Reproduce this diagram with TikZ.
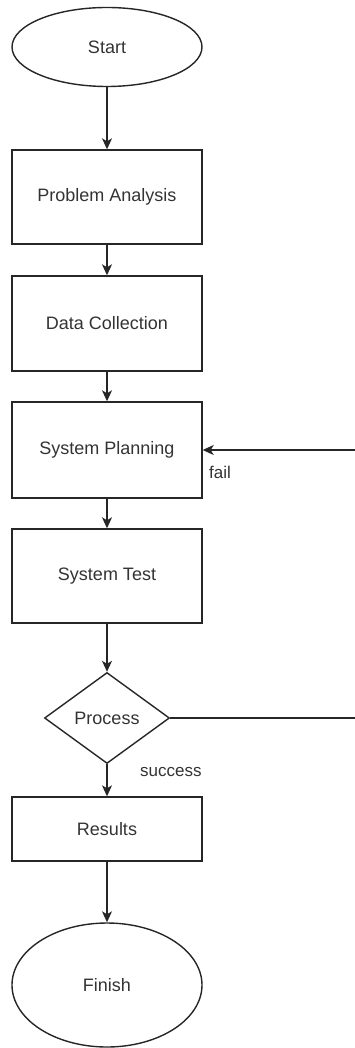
\documentclass[tikz,border=0pt]{standalone}
\usepackage{fontspec}
\setmainfont{Liberation Sans}
\usetikzlibrary{shapes.geometric,arrows.meta}
\begin{document}
\begin{tikzpicture}[x=1pt,y=-1pt,
  every node/.style={font=\fontsize{18}{20}\selectfont, text=black!80},
  box/.style={draw=black!85, line width=1.4pt, rectangle, minimum width=190pt, inner sep=0pt},
  term/.style={draw=black!85, line width=1.4pt, ellipse, minimum width=190pt, inner sep=0pt},
  dec/.style={draw=black!85, line width=1.4pt, diamond, minimum width=125pt, minimum height=91pt, inner sep=0pt},
  flow/.style={draw=black!85, line width=1.4pt, -{Stealth[length=11pt,width=10pt,inset=3pt]}},
  lbl/.style={font=\fontsize{17}{19}\selectfont, inner sep=0pt}
]
\useasboundingbox (0,0) rectangle (355,1048);
\clip (0,0) rectangle (355,1048);
\node[term, minimum height=79pt] (start) at (107,47) {Start};
\node[box, minimum height=94pt] (pa) at (107,197) {Problem Analysis};
\node[box, minimum height=95pt] (dc) at (107,323.5) {Data Collection};
\node[box, minimum height=96pt] (sp) at (107,450) {System Planning};
\node[box, minimum height=94pt] (st) at (107,576) {System Test};
\node[dec] (proc) at (107,718) {Process};
\node[box, minimum height=64pt] (res) at (107,829) {Results};
\node[term, minimum height=124pt] (fin) at (107,985) {Finish};
\coordinate (r) at (360,718);
\draw[flow] (start) -- (pa);
\draw[flow] (pa) -- (dc);
\draw[flow] (dc) -- (sp);
\draw[flow] (sp) -- (st);
\draw[flow] (st) -- (proc);
\draw[flow] (proc) -- (res);
\draw[flow] (res) -- (fin);
\draw[flow] (proc.east) -- (r) |- (sp.east);
\node[lbl, anchor=west] (fail) at (209,472) {fail};
\node[lbl, anchor=west] (succ) at (140,772) {success};
\end{tikzpicture}
\end{document}
